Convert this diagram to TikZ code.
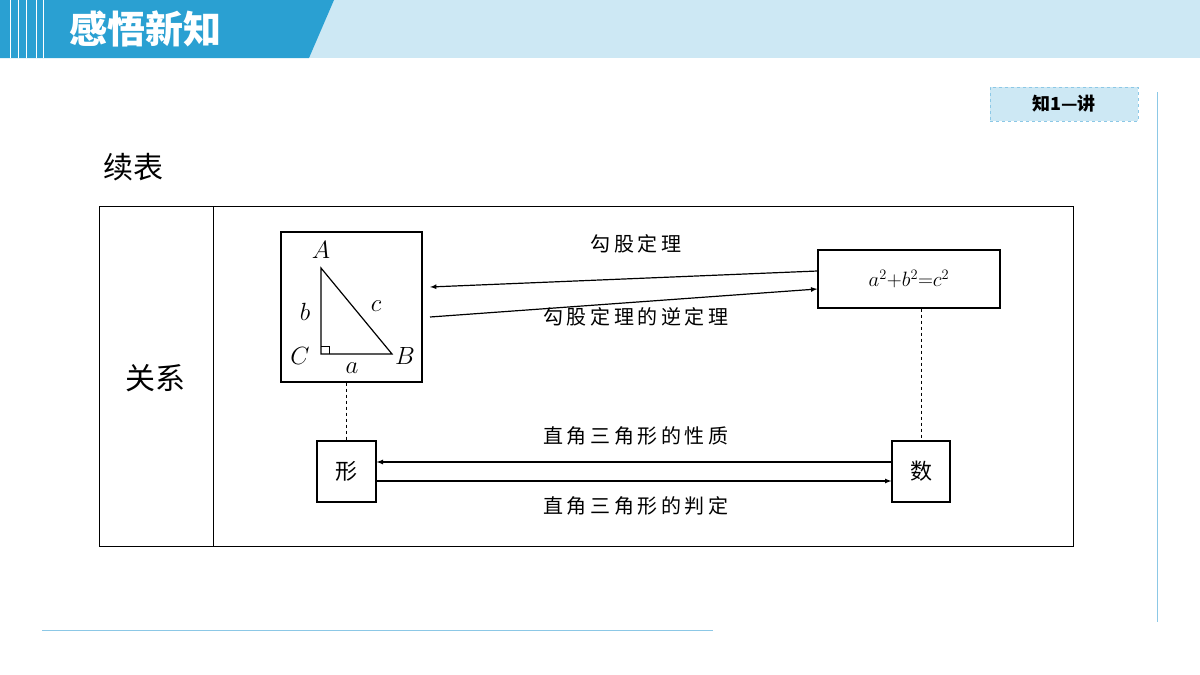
\documentclass[tikz,border=0pt]{standalone}
\usepackage{fontspec}
\newfontfamily\cjk{Noto Sans CJK SC}
\newfontfamily\cjkwide[LetterSpace=18]{Noto Sans CJK SC}
\usetikzlibrary{positioning}
\definecolor{hdblue}{RGB}{42,160,210}
\definecolor{hdlight}{RGB}{205,232,244}
\definecolor{lineblue}{RGB}{140,200,230}
\tikzset{
  box/.style={draw, line width=1.2pt, inner sep=0pt},
  lbl/.style={font=\cjkwide\fontsize{20}{20}\selectfont},
  flow/.style={-latex, line width=1.2pt},
  link/.style={dashed, line width=1pt}
}
\begin{document}
\begin{tikzpicture}[x=1pt,y=-1pt]
    \useasboundingbox (0,0) rectangle (1200,675);
    \fill[white] (0,0) rectangle (1200,675);
    % Kopfzeile
    \fill[hdlight] (300,0) rectangle (1200,58);
    \fill[hdblue] (0,0) -- (334,0) -- (309,58) -- (0,58) -- cycle;
    \foreach \x in {10,18,26,36,43} \draw[white, line width=1pt] (\x,0) -- (\x,58);
    \node (title) [text=white, font=\cjk\bfseries\fontsize{38}{38}\selectfont, anchor=west] at (66,29) {感悟新知};
    \node (tag) [draw=lineblue, dashed, fill=hdlight, minimum width=148pt, minimum height=34pt, font=\cjk\bfseries\fontsize{18}{18}\selectfont] at (1064,104) {知1—讲};
    \draw[lineblue, line width=1pt] (1157,92) -- (1157,622);
    \draw[lineblue, line width=1pt] (42,630) -- (713,630);
    \node (cont) [font=\cjk\fontsize{30}{30}\selectfont] at (133,167) {续表};

    % Tabelle
    \draw[line width=1pt] (99,206) rectangle (1073,546);
    \draw[line width=1pt] (213,206) -- (213,546);
    \node (rel) [font=\cjk\fontsize{30}{30}\selectfont] at (155,378) {关系};

    % Dreieck
    \node (tri) [box, minimum width=141pt, minimum height=150pt] at (351.5,307) {};
    \coordinate (A) at (321,268);
    \coordinate (C) at (321,354);
    \coordinate (B) at (392,354);
    \draw[line width=1.2pt] (A) -- (C) -- (B) -- cycle;
    \draw[line width=1pt] (321,346) -- (329,346) -- (329,354);
    \node at (321,250) {\fontsize{24}{24}\selectfont$A$};
    \node at (300,356) {\fontsize{24}{24}\selectfont$C$};
    \node at (405,356) {\fontsize{24}{24}\selectfont$B$};
    \node at (305,312) {\fontsize{24}{24}\selectfont$b$};
    \node at (376,306) {\fontsize{24}{24}\selectfont$c$};
    \node at (352,368) {\fontsize{24}{24}\selectfont$a$};

    \node (eq) [box, minimum width=182pt, minimum height=58pt] at (909,279) {\fontsize{22}{22}\selectfont$a^2{+}b^2{=}c^2$};
    \node (shape) [box, minimum width=59pt, minimum height=61pt, font=\cjk\fontsize{22}{22}\selectfont] at (346.5,471.5) {形};
    \node (num) [box, minimum width=58pt, minimum height=61pt, font=\cjk\fontsize{22}{22}\selectfont] at (921,471.5) {数};

    % Pfeile
    \draw[flow] ([yshift=-10pt]tri.east -| 430,0) -- ([yshift=-10pt]eq.west);
    \draw[flow] ([yshift=8pt]eq.west) -- (430,287);
    \draw[flow] ([yshift=-9.5pt]shape.east) -- ([yshift=-9.5pt]num.west);
    \draw[flow] ([yshift=9.5pt]num.west) -- ([yshift=9.5pt]shape.east);
    \draw[link] (tri.south -| shape.north) -- (shape.north);
    \draw[link] (eq.south -| num.north) -- (num.north);

    \node (l1) [lbl] at (636,244) {勾股定理};
    \node (l2) [lbl] at (636,317) {勾股定理的逆定理};
    \node (l3) [lbl] at (636,436) {直角三角形的性质};
    \node (l4) [lbl] at (636,506) {直角三角形的判定};
\end{tikzpicture}
\end{document}
